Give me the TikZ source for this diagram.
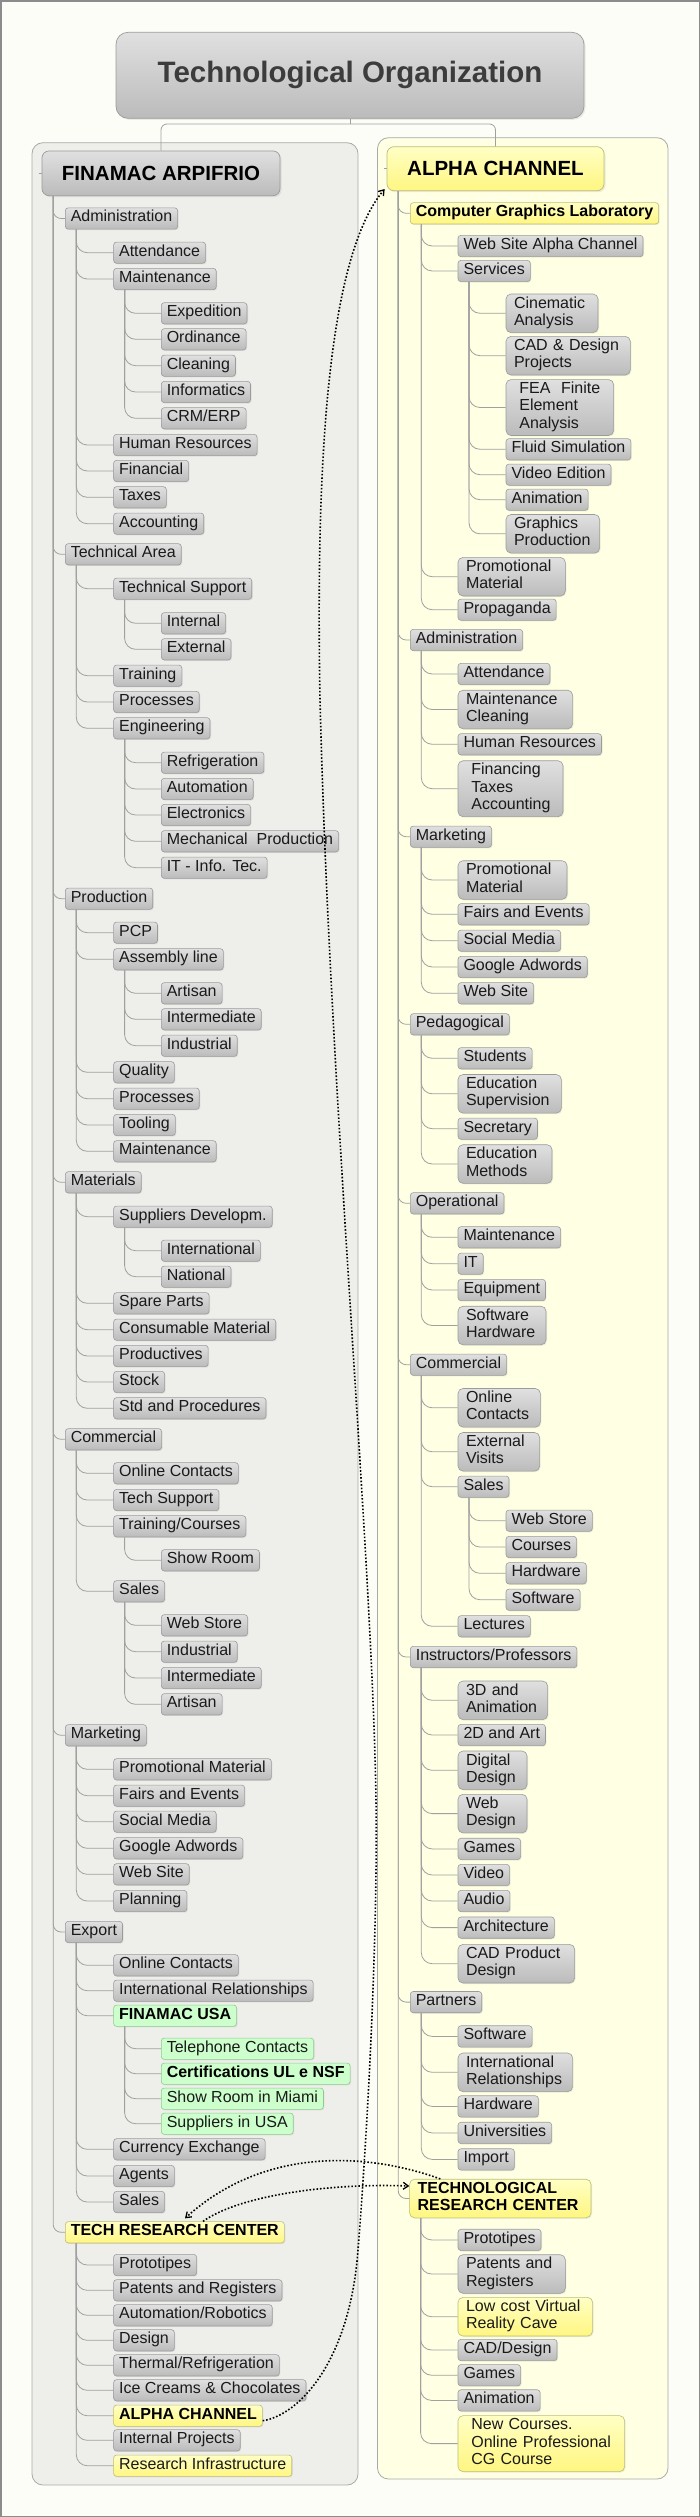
\documentclass[tikz,border=0pt]{standalone}
\usepackage{fontspec}
\setmainfont{Liberation Sans}
\usetikzlibrary{arrows.meta,shadows}
\definecolor{bgc}{HTML}{FDFDF7}
\definecolor{framec}{HTML}{8C8C8C}
\definecolor{lgfill}{HTML}{EEEEEA}
\definecolor{rgfill}{HTML}{FFFFE4}
\definecolor{grpb}{HTML}{A9A9A9}
\definecolor{gtop}{HTML}{E0E0E0}
\definecolor{gbot}{HTML}{BBBBBB}
\definecolor{gbord}{HTML}{9B9B9B}
\definecolor{ytop}{HTML}{FFFFC4}
\definecolor{ybot}{HTML}{FFF680}
\definecolor{ybord}{HTML}{BDBD7A}
\definecolor{grfill}{HTML}{CCFFCC}
\definecolor{grbord}{HTML}{8FCB8F}
\definecolor{connc}{HTML}{A0A0A0}
\definecolor{txtc}{HTML}{1A1A1A}
\definecolor{titlec}{HTML}{3C3C3C}
\newcommand\kids[2]{\foreach \kid in {#2}{\draw[conn] ([xshift=11.3pt]#1.south west) |- (\kid.west);}}
\newcommand\rkids[2]{\foreach \kid in {#2}{\draw[rconn] ([xshift=11.5pt]#1.south west) |- (\kid.west);}}
\begin{document}
\begin{tikzpicture}[x=1pt,y=-1pt,
  base/.style={draw=gbord, line width=0.6pt, rounded corners=3pt, inner xsep=5.5pt, inner ysep=2pt, anchor=west,
     font=\fontsize{16}{17.3}\selectfont, text=txtc,
     execute at begin node=\strut, execute at end node=\strut,
     drop shadow={shadow xshift=1pt,shadow yshift=-1pt,opacity=.15}},
  gn/.style={base, top color=gtop, bottom color=gbot},
  yn/.style={base, top color=ytop, bottom color=ybot, draw=ybord},
  grn/.style={base, fill=grfill, draw=grbord},
  bnode/.style={font=\fontsize{16}{17.3}\selectfont\bfseries, text=black},
  ml/.style={text width=#1, align=left, inner xsep=8pt, rounded corners=5pt},
  conn/.style={draw=connc, line width=0.8pt, rounded corners=11pt},
  rconn/.style={draw=connc, line width=0.8pt, rounded corners=8pt},
  rel/.style={draw=black, line width=1.6pt, dash pattern=on 1.6pt off 1.9pt, -{Straight Barb[length=5pt,width=7pt,line width=1.3pt]}},
  rootn/.style={draw=gbord, line width=0.7pt, rounded corners=7pt, font=\fontsize{20.5}{24}\selectfont\bfseries, text=black,
     drop shadow={shadow xshift=1.5pt,shadow yshift=-1.5pt,opacity=.15}}
]
\useasboundingbox (0,0) rectangle (700,2517);
\fill[bgc] (0,0) rectangle (700,2517);
\draw[framec, line width=1.5pt] (0.75,0.75) rectangle (699.25,2516.25);
% group boxes
\draw[draw=grpb, fill=lgfill, line width=0.8pt, rounded corners=11pt] (32,142.7) rectangle (358,2485);
\draw[draw=grpb, fill=rgfill, line width=0.8pt, rounded corners=11pt] (377.5,137.7) rectangle (668,2479);
% title
\node[draw=gbord, line width=0.7pt, rounded corners=12pt, top color=gtop, bottom color=gbot, minimum width=468pt, minimum height=86pt,
  font=\fontsize{29.5}{33}\selectfont\bfseries, text=titlec, drop shadow={shadow xshift=1.5pt,shadow yshift=-1.5pt,opacity=.15}] (title) at (350,75.3) {Technological Organization};
% roots
\node[rootn, top color=gtop, bottom color=gbot, minimum width=238pt, minimum height=44.7pt] (fin) at (161,173.3) {FINAMAC ARPIFRIO};
\node[rootn, top color=ytop, bottom color=ybot, draw=ybord, minimum width=217pt, minimum height=44pt] (alp) at (495.5,168.7) {ALPHA CHANNEL};
\coordinate (tj) at (350,124);
\draw[draw=connc, line width=0.8pt] (title.south) -- (tj);
\draw[draw=connc, line width=0.8pt, rounded corners=6pt] (tj) -| (fin.north);
\draw[draw=connc, line width=0.8pt, rounded corners=6pt] (tj) -| (alp.north);
\draw[draw=connc, line width=0.8pt] ([xshift=-3pt]fin.west) -- (fin.west);
\draw[draw=connc, line width=0.8pt] ([xshift=-3pt]alp.west) -- (alp.west);

% ================= LEFT TREE =================
\node[gn] (a1) at (65,218.5) {Administration};
\node[gn] (a2) at (65,554.3) {Technical Area};
\node[gn] (a3) at (65,898.7) {Production};
\node[gn] (a4) at (65,1182.3) {Materials};
\node[gn] (a5) at (65,1439.3) {Commercial};
\node[gn] (a6) at (65,1735.3) {Marketing};
\node[gn] (a7) at (65,1932) {Export};
\node[yn,bnode] (a8) at (65,2232.3) {TECH RESEARCH CENTER};
\rkids{fin}{a1,a2,a3,a4,a5,a6,a7,a8}

\node[gn] (a1a) at (113.3,252.7) {Attendance};
\node[gn] (a1b) at (113.3,279) {Maintenance};
\node[gn] (a1c) at (113.3,445) {Human Resources};
\node[gn] (a1d) at (113.3,471) {Financial};
\node[gn] (a1e) at (113.3,497.3) {Taxes};
\node[gn] (a1f) at (113.3,523.7) {Accounting};
\kids{a1}{a1a,a1b,a1c,a1d,a1e,a1f}
\node[gn] (a1ba) at (161,313.3) {Expedition};
\node[gn] (a1bb) at (161,339.3) {Ordinance};
\node[gn] (a1bc) at (161,365.7) {Cleaning};
\node[gn] (a1bd) at (161,392) {Informatics};
\node[gn] (a1be) at (161,418.3) {CRM/ERP};
\kids{a1b}{a1ba,a1bb,a1bc,a1bd,a1be}

\node[gn] (a2a) at (113.3,588.7) {Technical Support};
\node[gn] (a2b) at (113.3,675.7) {Training};
\node[gn] (a2c) at (113.3,702) {Processes};
\node[gn] (a2d) at (113.3,728.3) {Engineering};
\kids{a2}{a2a,a2b,a2c,a2d}
\node[gn] (a2aa) at (161,623.3) {Internal};
\node[gn] (a2ab) at (161,649.3) {External};
\kids{a2a}{a2aa,a2ab}
\node[gn] (a2da) at (161,762.7) {Refrigeration};
\node[gn] (a2db) at (161,789) {Automation};
\node[gn] (a2dc) at (161,815) {Electronics};
\node[gn] (a2dd) at (161,841.3) {Mechanical\ \ Production};
\node[gn] (a2de) at (161,867.7) {IT - Info. Tec.};
\kids{a2d}{a2da,a2db,a2dc,a2dd,a2de}

\node[gn] (a3a) at (113.3,932.7) {PCP};
\node[gn] (a3b) at (113.3,959.3) {Assembly line};
\node[gn] (a3c) at (113.3,1072.3) {Quality};
\node[gn] (a3d) at (113.3,1098.7) {Processes};
\node[gn] (a3e) at (113.3,1125) {Tooling};
\node[gn] (a3f) at (113.3,1151.3) {Maintenance};
\kids{a3}{a3a,a3b,a3c,a3d,a3e,a3f}
\node[gn] (a3ba) at (161,993.3) {Artisan};
\node[gn] (a3bb) at (161,1019.3) {Intermediate};
\node[gn] (a3bc) at (161,1045.7) {Industrial};
\kids{a3b}{a3ba,a3bb,a3bc}

\node[gn] (a4a) at (113.3,1216.7) {Suppliers Developm.};
\node[gn] (a4b) at (113.3,1303.3) {Spare Parts};
\node[gn] (a4c) at (113.3,1329.7) {Consumable Material};
\node[gn] (a4d) at (113.3,1356) {Productives};
\node[gn] (a4e) at (113.3,1382) {Stock};
\node[gn] (a4f) at (113.3,1408.3) {Std and Procedures};
\kids{a4}{a4a,a4b,a4c,a4d,a4e,a4f}
\node[gn] (a4aa) at (161,1250.7) {International};
\node[gn] (a4ab) at (161,1276.7) {National};
\kids{a4a}{a4aa,a4ab}

\node[gn] (a5a) at (113.3,1473.3) {Online Contacts};
\node[gn] (a5b) at (113.3,1500) {Tech Support};
\node[gn] (a5c) at (113.3,1526.3) {Training/Courses};
\node[gn] (a5d) at (113.3,1591.3) {Sales};
\kids{a5}{a5a,a5b,a5c,a5d}
\node[gn] (a5ca) at (161,1560.3) {Show Room};
\kids{a5c}{a5ca}
\node[gn] (a5da) at (161,1625.3) {Web Store};
\node[gn] (a5db) at (161,1651.7) {Industrial};
\node[gn] (a5dc) at (161,1678) {Intermediate};
\node[gn] (a5dd) at (161,1704.3) {Artisan};
\kids{a5d}{a5da,a5db,a5dc,a5dd}

\node[gn] (a6a) at (113.3,1769.3) {Promotional Material};
\node[gn] (a6b) at (113.3,1795.7) {Fairs and Events};
\node[gn] (a6c) at (113.3,1821.7) {Social Media};
\node[gn] (a6d) at (113.3,1848.3) {Google Adwords};
\node[gn] (a6e) at (113.3,1874.3) {Web Site};
\node[gn] (a6f) at (113.3,1901) {Planning};
\kids{a6}{a6a,a6b,a6c,a6d,a6e,a6f}

\node[gn] (a7a) at (113.3,1965.3) {Online Contacts};
\node[gn] (a7b) at (113.3,1990.7) {International Relationships};
\node[grn,bnode] (a7c) at (113.3,2015.7) {FINAMAC USA};
\node[gn] (a7d) at (113.3,2149.3) {Currency Exchange};
\node[gn] (a7e) at (113.3,2176) {Agents};
\node[gn] (a7f) at (113.3,2202) {Sales};
\kids{a7}{a7a,a7b,a7c,a7d,a7e,a7f}
\node[grn] (a7ca) at (161,2048.7) {Telephone Contacts};
\node[grn,bnode] (a7cb) at (161,2073.7) {Certifications UL e NSF};
\node[grn] (a7cc) at (161,2098.7) {Show Room in Miami};
\node[grn] (a7cd) at (161,2123.7) {Suppliers in USA};
\kids{a7c}{a7ca,a7cb,a7cc,a7cd}

\node[gn] (a8a) at (113.3,2265) {Prototipes};
\node[gn] (a8b) at (113.3,2290.3) {Patents and Registers};
\node[gn] (a8c) at (113.3,2315.3) {Automation/Robotics};
\node[gn] (a8d) at (113.3,2340.3) {Design};
\node[gn] (a8e) at (113.3,2365.3) {Thermal/Refrigeration};
\node[gn] (a8f) at (113.3,2390.3) {Ice Creams \& Chocolates};
\node[yn,bnode] (a8g) at (113.3,2415.7) {ALPHA CHANNEL};
\node[gn] (a8h) at (113.3,2440.3) {Internal Projects};
\node[yn] (a8i) at (113.3,2465.7) {Research Infrastructure};
\kids{a8}{a8a,a8b,a8c,a8d,a8e,a8f,a8g,a8h,a8i}

% ================= RIGHT TREE =================
\node[yn,bnode] (b1) at (410,213.3) {Computer Graphics Laboratory};
\node[gn] (b2) at (410,640) {Administration};
\node[gn] (b3) at (410,836.7) {Marketing};
\node[gn] (b4) at (410,1024.3) {Pedagogical};
\node[gn] (b5) at (410,1203.3) {Operational};
\node[gn] (b6) at (410,1364.7) {Commercial};
\node[gn] (b7) at (410,1657) {Instructors/Professors};
\node[gn] (b8) at (410,2002.1) {Partners};
\node[yn,bnode,ml=165.4pt] (b9) at (409.3,2198.5) {TECHNOLOGICAL\\RESEARCH CENTER};
\rkids{alp}{b1,b2,b3,b4,b5,b6,b7,b8,b9}

\node[gn] (b1a) at (457.7,246) {Web Site Alpha Channel};
\node[gn] (b1b) at (457.7,271) {Services};
\node[gn,ml=91.3pt] (b1c) at (457.7,576.7) {Promotional\\Material};
\node[gn] (b1d) at (457.7,609.7) {Propaganda};
\kids{b1}{b1a,b1b,b1c,b1d}
\node[gn,ml=76pt] (b1ba) at (505.7,313.3) {Cinematic\\Analysis};
\node[gn,ml=108.3pt] (b1bb) at (505.7,355.7) {CAD \& Design\\Projects};
\node[gn,ml=91.6pt] (b1bc) at (505.7,407.5) {\ FEA\ \ Finite\\\ Element\\\ Analysis};
\node[gn] (b1bd) at (505.7,449.3) {Fluid Simulation};
\node[gn] (b1be) at (505.7,474.7) {Video Edition};
\node[gn] (b1bf) at (505.7,499.7) {Animation};
\node[gn,ml=77.6pt] (b1bg) at (505.7,533.8) {Graphics\\Production};
\kids{b1b}{b1ba,b1bb,b1bc,b1bd,b1be,b1bf,b1bg}

\node[gn] (b2a) at (457.7,674) {Attendance};
\node[gn,ml=98.6pt] (b2b) at (457.7,709.5) {Maintenance\\Cleaning};
\node[gn] (b2c) at (457.7,744.3) {Human Resources};
\node[gn,ml=89pt] (b2d) at (457.7,788.7) {\ Financing\\\ Taxes\\\ Accounting};
\kids{b2}{b2a,b2b,b2c,b2d}

\node[gn,ml=93pt] (b3a) at (457.7,880) {Promotional\\Material};
\node[gn] (b3b) at (457.7,914.3) {Fairs and Events};
\node[gn] (b3c) at (457.7,940.7) {Social Media};
\node[gn] (b3d) at (457.7,967) {Google Adwords};
\node[gn] (b3e) at (457.7,993.3) {Web Site};
\kids{b3}{b3a,b3b,b3c,b3d,b3e}

\node[gn] (b4a) at (457.7,1058.3) {Students};
\node[gn,ml=87.3pt] (b4b) at (457.7,1093.8) {Education\\Supervision};
\node[gn] (b4c) at (457.7,1128.7) {Secretary};
\node[gn,ml=78pt] (b4d) at (457.7,1164) {Education\\Methods};
\kids{b4}{b4a,b4b,b4c,b4d}

\node[gn] (b5a) at (457.7,1237.3) {Maintenance};
\node[gn] (b5b) at (457.7,1263.7) {IT};
\node[gn] (b5c) at (457.7,1290) {Equipment};
\node[gn,ml=72pt] (b5d) at (457.7,1325.5) {Software\\Hardware};
\kids{b5}{b5a,b5b,b5c,b5d}

\node[gn,ml=66.3pt] (b6a) at (457.7,1407.8) {Online\\Contacts};
\node[gn,ml=65.6pt] (b6b) at (457.7,1451.8) {External\\Visits};
\node[gn] (b6c) at (457.7,1486.7) {Sales};
\node[gn] (b6d) at (457.7,1626.3) {Lectures};
\kids{b6}{b6a,b6b,b6c,b6d}
\node[gn] (b6ca) at (505.7,1520.7) {Web Store};
\node[gn] (b6cb) at (505.7,1547) {Courses};
\node[gn] (b6cc) at (505.7,1573.3) {Hardware};
\node[gn] (b6cd) at (505.7,1599.7) {Software};
\kids{b6c}{b6ca,b6cb,b6cc,b6cd}

\node[gn,ml=73.6pt] (b7a) at (457.7,1700.3) {3D and\\Animation};
\node[gn] (b7b) at (457.7,1735) {2D and Art};
\node[gn,ml=53pt] (b7c) at (457.7,1770.3) {Digital\\Design};
\node[gn,ml=53pt] (b7d) at (457.7,1813.6) {Web\\Design};
\node[gn] (b7e) at (457.7,1848.9) {Games};
\node[gn] (b7f) at (457.7,1875) {Video};
\node[gn] (b7g) at (457.7,1901) {Audio};
\node[gn] (b7h) at (457.7,1927.6) {Architecture};
\node[gn,ml=100.6pt] (b7i) at (457.7,1963.7) {CAD Product\\Design};
\kids{b7}{b7a,b7b,b7c,b7d,b7e,b7f,b7g,b7h,b7i}

\node[gn] (b8a) at (457.7,2036.4) {Software};
\node[gn,ml=98.6pt] (b8b) at (457.7,2072.3) {International\\Relationships};
\node[gn] (b8c) at (457.7,2106.4) {Hardware};
\node[gn] (b8d) at (457.7,2132.9) {Universities};
\node[gn] (b8e) at (457.7,2159.4) {Import};
\kids{b8}{b8a,b8b,b8c,b8d,b8e}

\node[gn] (b9a) at (457.7,2239.9) {Prototipes};
\node[gn,ml=91.3pt] (b9b) at (457.7,2274) {Patents and\\Registers};
\node[yn,ml=118.6pt] (b9c) at (457.7,2316.7) {Low cost Virtual\\Reality Cave};
\node[gn] (b9d) at (457.7,2350) {CAD/Design};
\node[gn] (b9e) at (457.7,2375.2) {Games};
\node[gn] (b9f) at (457.7,2400.4) {Animation};
\node[yn,ml=150.6pt] (b9g) at (457.7,2443.6) {\ New Courses.\\\ Online Professional\\\ CG Course};
\kids{b9}{b9a,b9b,b9c,b9d,b9e,b9f,b9g}

% ================= RELATIONSHIPS =================
\draw[rel] ([yshift=-5pt]a8g.east) .. controls (300,2415) and (350,2360) .. (358,2250)
   .. controls (366,2150) and (378,1950) .. (376,1800)
   .. controls (372,1550) and (330,1100) .. (320,700)
   .. controls (316,480) and (325,260) .. ([xshift=-2pt,yshift=2pt]alp.south west);
\draw[rel] ([xshift=31pt]b9.north west) .. controls (360,2150) and (260,2150) .. ([xshift=120pt,yshift=3pt]a8.north west);
\draw[rel] ([xshift=138pt]a8.north west) .. controls (240,2195) and (330,2183) .. ([yshift=12.5pt]b9.west);
\end{tikzpicture}
\end{document}
